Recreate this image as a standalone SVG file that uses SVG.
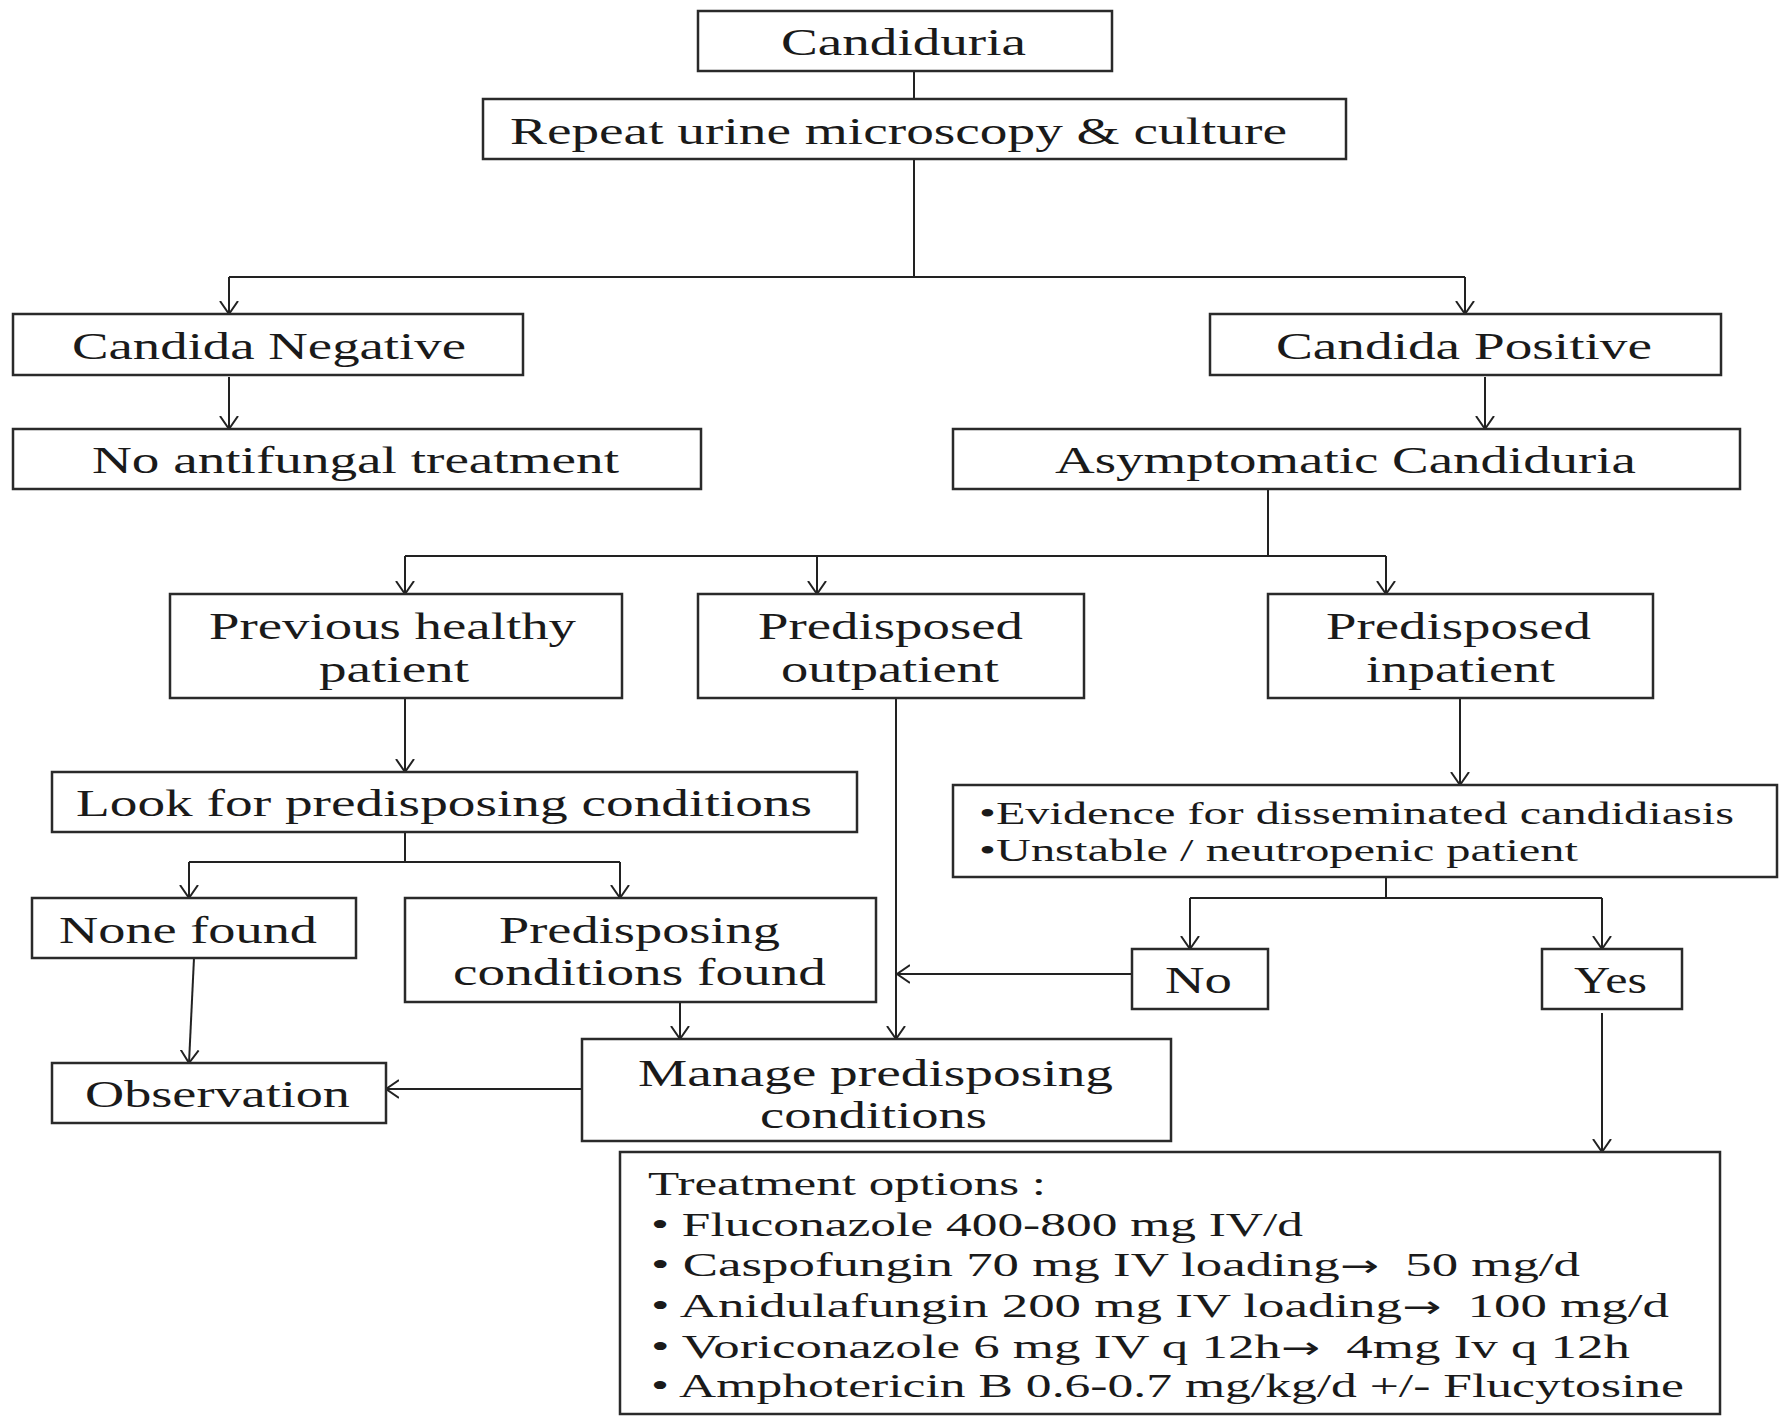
<svg xmlns="http://www.w3.org/2000/svg" width="1779" height="1418" viewBox="0 0 1779 1418">
<style>
.box{fill:#fff;stroke:#2a2a2a;stroke-width:2.5}
.t{font-family:"Liberation Serif","Times New Roman",serif;font-size:37px;fill:#1a1a1a}
.s{font-size:31px}
.m{font-size:34px}
.ar{font-family:"DejaVu Sans",sans-serif;font-size:30px}
.c{fill:none;stroke:#222;stroke-width:2}
</style>
<defs>
<marker id="arr" viewBox="0 0 20 20" markerWidth="20" markerHeight="20" refX="13" refY="10" orient="auto" markerUnits="userSpaceOnUse">
<path d="M0,1 L13,10 L0,19" fill="none" stroke="#222" stroke-width="2"/>
</marker>
</defs>
<rect width="1779" height="1418" fill="#fff"/>
<g id="connectors">
<path class="c" d="M914,71 V99"/>
<path class="c" d="M914,159 V277 M229,277 H1465"/>
<path class="c" d="M229,277 V314" marker-end="url(#arr)"/>
<path class="c" d="M1465,277 V314" marker-end="url(#arr)"/>
<path class="c" d="M229,377 V429" marker-end="url(#arr)"/>
<path class="c" d="M1485,377 V429" marker-end="url(#arr)"/>
<path class="c" d="M1268,489 V556 M405,556 H1386"/>
<path class="c" d="M405,556 V594" marker-end="url(#arr)"/>
<path class="c" d="M817,556 V594" marker-end="url(#arr)"/>
<path class="c" d="M1386,556 V594" marker-end="url(#arr)"/>
<path class="c" d="M405,698 V772" marker-end="url(#arr)"/>
<path class="c" d="M405,832 V862 M189,862 H620"/>
<path class="c" d="M189,862 V898" marker-end="url(#arr)"/>
<path class="c" d="M620,862 V898" marker-end="url(#arr)"/>
<path class="c" d="M896,698 V1039" marker-end="url(#arr)"/>
<path class="c" d="M1460,698 V785" marker-end="url(#arr)"/>
<path class="c" d="M1386,877 V898 M1190,898 H1602"/>
<path class="c" d="M1190,898 V949" marker-end="url(#arr)"/>
<path class="c" d="M1602,898 V949" marker-end="url(#arr)"/>
<path class="c" d="M1132,974 H897" marker-end="url(#arr)"/>
<path class="c" d="M194,958 L189,1063" marker-end="url(#arr)"/>
<path class="c" d="M680,1002 V1039" marker-end="url(#arr)"/>
<path class="c" d="M582,1089 H386" marker-end="url(#arr)"/>
<path class="c" d="M1602,1013 V1152" marker-end="url(#arr)"/>
</g>
<g id="n-candiduria"><rect class="box" x="698" y="11" width="414" height="60"/><text class="t" x="781" y="55" textLength="245" lengthAdjust="spacingAndGlyphs">Candiduria</text></g>
<g id="n-repeat"><rect class="box" x="483" y="99" width="863" height="60"/><text class="t" x="510" y="144" textLength="777" lengthAdjust="spacingAndGlyphs">Repeat urine microscopy &amp; culture</text></g>
<g id="n-negative"><rect class="box" x="13" y="314" width="510" height="61"/><text class="t" x="72" y="359" textLength="394" lengthAdjust="spacingAndGlyphs">Candida Negative</text></g>
<g id="n-positive"><rect class="box" x="1210" y="314" width="511" height="61"/><text class="t" x="1276" y="359" textLength="376" lengthAdjust="spacingAndGlyphs">Candida Positive</text></g>
<g id="n-noantifungal"><rect class="box" x="13" y="429" width="688" height="60"/><text class="t" x="92" y="473" textLength="527" lengthAdjust="spacingAndGlyphs">No antifungal treatment</text></g>
<g id="n-asymptomatic"><rect class="box" x="953" y="429" width="787" height="60"/><text class="t" x="1055" y="473" textLength="581" lengthAdjust="spacingAndGlyphs">Asymptomatic Candiduria</text></g>
<g id="n-healthy"><rect class="box" x="170" y="594" width="452" height="104"/><text class="t" x="209" y="639" textLength="367" lengthAdjust="spacingAndGlyphs">Previous healthy</text><text class="t" x="319" y="682" textLength="150" lengthAdjust="spacingAndGlyphs">patient</text></g>
<g id="n-outpatient"><rect class="box" x="698" y="594" width="386" height="104"/><text class="t" x="758" y="639" textLength="265" lengthAdjust="spacingAndGlyphs">Predisposed</text><text class="t" x="781" y="682" textLength="218" lengthAdjust="spacingAndGlyphs">outpatient</text></g>
<g id="n-inpatient"><rect class="box" x="1268" y="594" width="385" height="104"/><text class="t" x="1326" y="639" textLength="265" lengthAdjust="spacingAndGlyphs">Predisposed</text><text class="t" x="1366" y="682" textLength="189" lengthAdjust="spacingAndGlyphs">inpatient</text></g>
<g id="n-lookfor"><rect class="box" x="52" y="772" width="805" height="60"/><text class="t" x="76" y="816" textLength="736" lengthAdjust="spacingAndGlyphs">Look for predisposing conditions</text></g>
<g id="n-evidence"><rect class="box" x="953" y="785" width="824" height="92"/><text class="t s" x="979" y="824" textLength="755" lengthAdjust="spacingAndGlyphs">•Evidence for disseminated candidiasis</text><text class="t s" x="979" y="861" textLength="599" lengthAdjust="spacingAndGlyphs">•Unstable / neutropenic patient</text></g>
<g id="n-nonefound"><rect class="box" x="32" y="898" width="324" height="60"/><text class="t" x="59" y="943" textLength="258" lengthAdjust="spacingAndGlyphs">None found</text></g>
<g id="n-predfound"><rect class="box" x="405" y="898" width="471" height="104"/><text class="t" x="499" y="943" textLength="281" lengthAdjust="spacingAndGlyphs">Predisposing</text><text class="t" x="453" y="985" textLength="373" lengthAdjust="spacingAndGlyphs">conditions found</text></g>
<g id="n-no"><rect class="box" x="1132" y="949" width="136" height="60"/><text class="t" x="1165" y="993" textLength="67" lengthAdjust="spacingAndGlyphs">No</text></g>
<g id="n-yes"><rect class="box" x="1542" y="949" width="140" height="60"/><text class="t" x="1574" y="993" textLength="73" lengthAdjust="spacingAndGlyphs">Yes</text></g>
<g id="n-observation"><rect class="box" x="52" y="1063" width="334" height="60"/><text class="t" x="85" y="1107" textLength="265" lengthAdjust="spacingAndGlyphs">Observation</text></g>
<g id="n-manage"><rect class="box" x="582" y="1039" width="589" height="102"/><text class="t" x="638" y="1086" textLength="475" lengthAdjust="spacingAndGlyphs">Manage predisposing</text><text class="t" x="760" y="1128" textLength="227" lengthAdjust="spacingAndGlyphs">conditions</text></g>
<g id="n-treatment"><rect class="box" x="620" y="1152" width="1100" height="262"/>
<text class="t m" x="648" y="1195" textLength="398" lengthAdjust="spacingAndGlyphs">Treatment options :</text>
<text class="t m" x="651" y="1236" textLength="652" lengthAdjust="spacingAndGlyphs">• Fluconazole 400-800 mg IV/d</text>
<text class="t m" x="651" y="1276" textLength="929" lengthAdjust="spacingAndGlyphs" xml:space="preserve">• Caspofungin 70 mg IV loading<tspan class="ar">→</tspan>  50 mg/d</text>
<text class="t m" x="651" y="1317" textLength="1018" lengthAdjust="spacingAndGlyphs" xml:space="preserve">• Anidulafungin 200 mg IV loading<tspan class="ar">→</tspan>  100 mg/d</text>
<text class="t m" x="651" y="1358" textLength="979" lengthAdjust="spacingAndGlyphs" xml:space="preserve">• Voriconazole 6 mg IV q 12h<tspan class="ar">→</tspan>  4mg Iv q 12h</text>
<text class="t m" x="651" y="1397" textLength="1033" lengthAdjust="spacingAndGlyphs">• Amphotericin B 0.6-0.7 mg/kg/d +/- Flucytosine</text>
</g>
</svg>
